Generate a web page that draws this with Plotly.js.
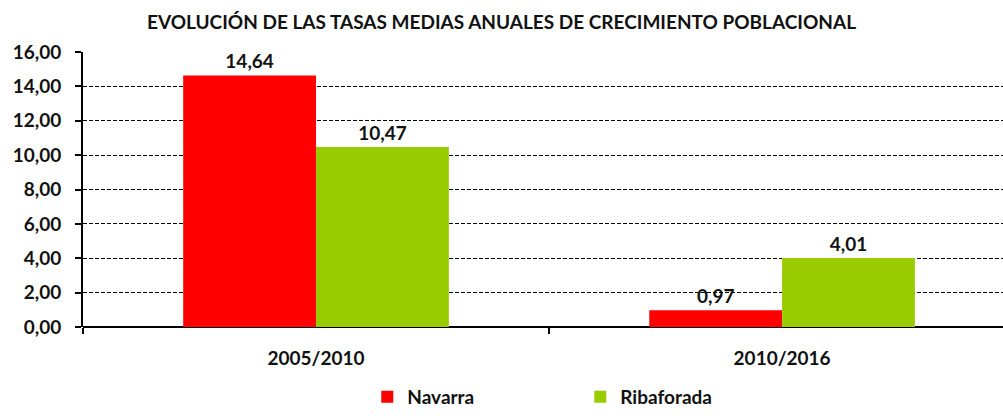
<!DOCTYPE html>
<html>
<head>
<meta charset="utf-8">
<script src="https://cdn.plot.ly/plotly-3.0.1.min.js"></script>
<style>html,body{margin:0;padding:0;overflow:hidden;background:#fff}#chart{width:1003px;height:416px}</style>
</head>
<body>
<div id="chart"></div>
<script>
const categories = ["2005/2010", "2010/2016"];
const navarra = [14.64, 0.97];
const ribaforada = [10.47, 4.01];
const seriesNames = ["Navarra", "Ribaforada"];
const titleText = "EVOLUCIÓN DE LAS TASAS MEDIAS ANUALES DE CRECIMIENTO POBLACIONAL";

const FONT = "Lato, 'Open Sans', sans-serif";
const FS = 19;
const fmt = v => v.toFixed(2).replace('.', ',');

const traces = [
  {type:'bar', name:seriesNames[0], x:categories, y:navarra, marker:{color:'#FF0000'},
   text:navarra.map(fmt), textposition:'outside', cliponaxis:false,
   textfont:{family:FONT, size:FS, color:'#111', weight:'bold'}},
  {type:'bar', name:seriesNames[1], x:categories, y:ribaforada, marker:{color:'#99CC00'},
   text:ribaforada.map(fmt), textposition:'outside', cliponaxis:false,
   textfont:{family:FONT, size:FS, color:'#111', weight:'bold'}}
];

const layout = {
  width:1003, height:416,
  margin:{l:83, r:0, t:52, b:89},
  paper_bgcolor:'#fff', plot_bgcolor:'#fff',
  separators:',.',
  font:{family:FONT, color:'#111', size:FS, weight:'bold'},
  title:{text:titleText, x:0.5, xanchor:'center', y:1-22/416, yanchor:'middle', yref:'container',
         font:{family:FONT, size:FS, color:'#111', weight:'bold'}},
  barmode:'group', bargap:0.43, bargroupgap:0,
  xaxis:{type:'category', range:[-0.5, 1.474], tickson:'boundaries', ticks:'outside', ticklen:6,
         tickcolor:'#000', tickwidth:2, showline:false, showgrid:false, ticklabelstandoff:18,
         tickfont:{family:FONT, size:FS, weight:'bold'}},
  yaxis:{range:[0,16], dtick:2, tickformat:'.2f', ticks:'outside', ticklen:6, tickcolor:'#000', tickwidth:2,
         showline:true, linecolor:'#000', linewidth:2, ticklabelstandoff:10,
         showgrid:true, gridcolor:'#000', griddash:'4px,2px', gridwidth:1,
         zeroline:true, zerolinecolor:'#000', zerolinewidth:2,
         tickfont:{family:FONT, size:FS, weight:'bold'}},
  showlegend:true,
  legend:{orientation:'h', x:0.309, xanchor:'left', y:0, yanchor:'bottom', yref:'container',
          entrywidth:168, entrywidthmode:'pixels',
          font:{family:FONT, size:FS, color:'#111', weight:'bold'}}
};

Plotly.newPlot('chart', traces, layout, {displayModeBar:false, staticPlot:true});
</script>
</body>
</html>
